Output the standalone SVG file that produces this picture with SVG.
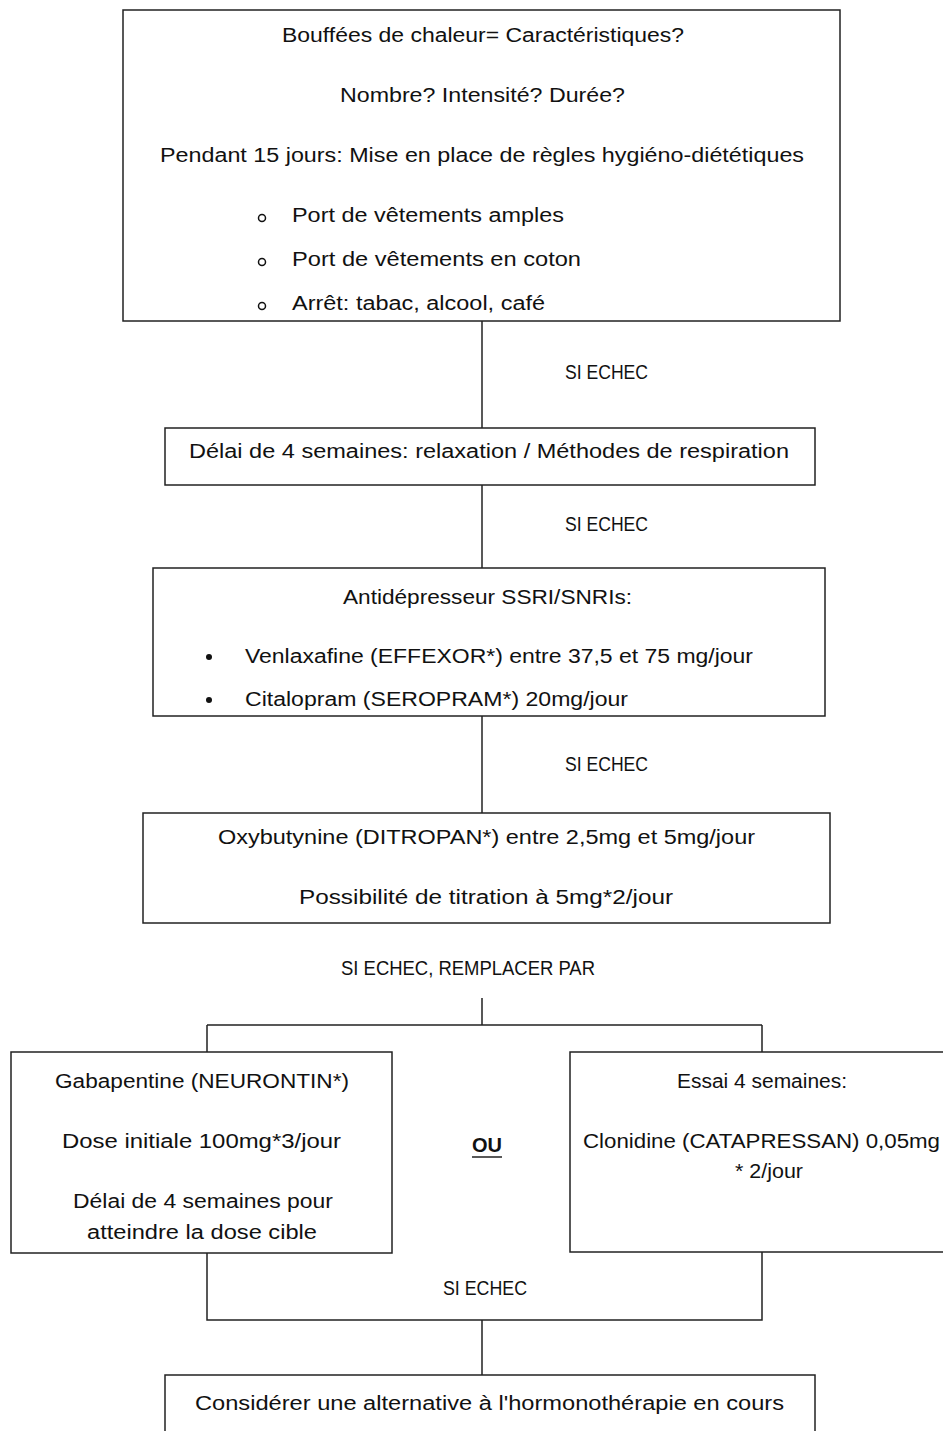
<svg xmlns="http://www.w3.org/2000/svg" width="943" height="1431" viewBox="0 0 943 1431">
<style>
.box{fill:#fff;stroke:#222;stroke-width:1.5}
.ln{fill:none;stroke:#222;stroke-width:1.5}
text{font-family:"Liberation Sans",Arial,sans-serif;font-size:20px;fill:#111}
.c{text-anchor:middle}
.b{font-weight:bold}
</style>
<defs>
<clipPath id="clip3"><rect x="153" y="568" width="672" height="146"/></clipPath>
</defs>
<rect width="943" height="1431" fill="#fff"/>
<g id="connectors">
<path class="ln" d="M482 321V428"/>
<path class="ln" d="M482 485V568"/>
<path class="ln" d="M482 716V813"/>
<path class="ln" d="M482 998V1025M207 1025H762M207 1025V1052M762 1025V1052"/>
<path class="ln" d="M207 1253V1320H762V1252M482 1320V1375"/>
<text x="565" y="379" textLength="83" lengthAdjust="spacingAndGlyphs">SI ECHEC</text>
<text x="565" y="531" textLength="83" lengthAdjust="spacingAndGlyphs">SI ECHEC</text>
<text x="565" y="771" textLength="83" lengthAdjust="spacingAndGlyphs">SI ECHEC</text>
<text x="341" y="975" textLength="254" lengthAdjust="spacingAndGlyphs">SI ECHEC, REMPLACER PAR</text>
<text x="443" y="1295" textLength="84" lengthAdjust="spacingAndGlyphs">SI ECHEC</text>
<text x="472" y="1152" class="b" textLength="30" lengthAdjust="spacingAndGlyphs">OU</text>
<path class="ln" d="M472 1157H502"/>
</g>
<g id="n1">
<rect class="box" x="123" y="10" width="717" height="311"/>
<text x="282" y="42" textLength="402" lengthAdjust="spacingAndGlyphs">Bouffées de chaleur= Caractéristiques?</text>
<text x="340" y="102" textLength="285" lengthAdjust="spacingAndGlyphs">Nombre? Intensité? Durée?</text>
<text x="160" y="162" textLength="644" lengthAdjust="spacingAndGlyphs">Pendant 15 jours: Mise en place de règles hygiéno-diététiques</text>
<circle cx="262" cy="218" r="3.5" fill="none" stroke="#111" stroke-width="1.5"/>
<circle cx="262" cy="262" r="3.5" fill="none" stroke="#111" stroke-width="1.5"/>
<circle cx="262" cy="306" r="3.5" fill="none" stroke="#111" stroke-width="1.5"/>
<text x="292" y="222" textLength="272" lengthAdjust="spacingAndGlyphs">Port de vêtements amples</text>
<text x="292" y="266" textLength="289" lengthAdjust="spacingAndGlyphs">Port de vêtements en coton</text>
<text x="292" y="310" textLength="253" lengthAdjust="spacingAndGlyphs">Arrêt: tabac, alcool, café</text>
</g>
<g id="n2">
<rect class="box" x="165" y="428" width="650" height="57"/>
<text x="189" y="458" textLength="600" lengthAdjust="spacingAndGlyphs">Délai de 4 semaines: relaxation / Méthodes de respiration</text>
</g>
<g id="n3">
<rect class="box" x="153" y="568" width="672" height="148"/>
<text x="343" y="604" textLength="289" lengthAdjust="spacingAndGlyphs">Antidépresseur SSRI/SNRIs:</text>
<circle cx="209" cy="657" r="3" fill="#111"/>
<circle cx="209" cy="700" r="3" fill="#111"/>
<text x="245" y="663" textLength="508" lengthAdjust="spacingAndGlyphs">Venlaxafine (EFFEXOR*) entre 37,5 et 75 mg/jour</text>
<text x="245" y="706" clip-path="url(#clip3)" textLength="383" lengthAdjust="spacingAndGlyphs">Citalopram (SEROPRAM*) 20mg/jour</text>
</g>
<g id="n4">
<rect class="box" x="143" y="813" width="687" height="110"/>
<text x="218" y="844" textLength="537" lengthAdjust="spacingAndGlyphs">Oxybutynine (DITROPAN*) entre 2,5mg et 5mg/jour</text>
<text x="299" y="904" textLength="374" lengthAdjust="spacingAndGlyphs">Possibilité de titration à 5mg*2/jour</text>
</g>
<g id="n5">
<rect class="box" x="11" y="1052" width="381" height="201"/>
<text x="55" y="1088" textLength="294" lengthAdjust="spacingAndGlyphs">Gabapentine (NEURONTIN*)</text>
<text x="62" y="1148" textLength="279" lengthAdjust="spacingAndGlyphs">Dose initiale 100mg*3/jour</text>
<text x="73" y="1208" textLength="260" lengthAdjust="spacingAndGlyphs">Délai de 4 semaines pour</text>
<text x="87" y="1239" textLength="230" lengthAdjust="spacingAndGlyphs">atteindre la dose cible</text>
</g>
<g id="n6">
<rect class="box" x="570" y="1052" width="380" height="200"/>
<text x="677" y="1088" textLength="170" lengthAdjust="spacingAndGlyphs">Essai 4 semaines:</text>
<text x="583" y="1148" textLength="357" lengthAdjust="spacingAndGlyphs">Clonidine (CATAPRESSAN) 0,05mg</text>
<text x="735" y="1178" textLength="68" lengthAdjust="spacingAndGlyphs">* 2/jour</text>
</g>
<g id="n7">
<rect class="box" x="165" y="1375" width="650" height="70"/>
<text x="195" y="1410" textLength="589" lengthAdjust="spacingAndGlyphs">Considérer une alternative à l'hormonothérapie en cours</text>
</g>
</svg>
